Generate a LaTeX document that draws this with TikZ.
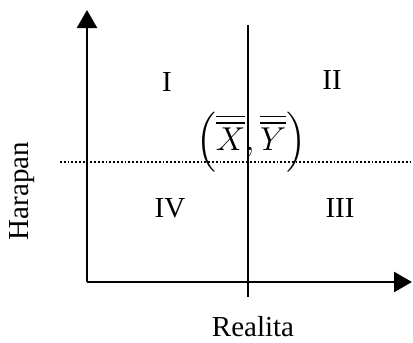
\documentclass[tikz,border=0pt]{standalone}
\usepackage{amsmath,amssymb}
\usepackage{fontspec}
\setmainfont{Liberation Serif}
\usetikzlibrary{arrows.meta,positioning}

\begin{document}
\begin{tikzpicture}[x=0.5pt, y=-0.5pt, font=\fontsize{14.5}{17}\selectfont]
\useasboundingbox (0,0) rectangle (413,343);
% Quadrant diagram: realita vs harapan

% Axes
\coordinate (origin) at (87,282);
\coordinate (ytop) at (87,10);
\coordinate (xend) at (412,282);
\draw[-{Triangle[length=9pt, width=10pt]}, line width=1.3pt] (origin) -- (ytop);
\draw[-{Triangle[length=9pt, width=10pt]}, line width=1.3pt] (origin) -- (xend);

% Mean lines
\coordinate (vtop) at (248,25);
\coordinate (vbot) at (248,297);
\coordinate (hleft) at (60,162);
\coordinate (hright) at (413,162);
\draw[line width=0.8pt] (vtop) -- (vbot);
\draw[densely dotted, line width=0.9pt] (hleft) -- (hright);

% Quadrant labels
\node (q1) at (167,82) {I};
\node (q2) at (332,80) {II};
\node (q3) at (340,208) {III};
\node (q4) at (170,208) {IV};

% Mean point
\node[scale=1.15] (mean) at (251,142) {$\left(\overline{\overline{X}},\overline{\overline{Y}}\right)$};

% Axis titles
\node (xlabel) at (253,327) {Realita};
\node[rotate=90] (ylabel) at (22,191) {Harapan};
\end{tikzpicture}
\end{document}
